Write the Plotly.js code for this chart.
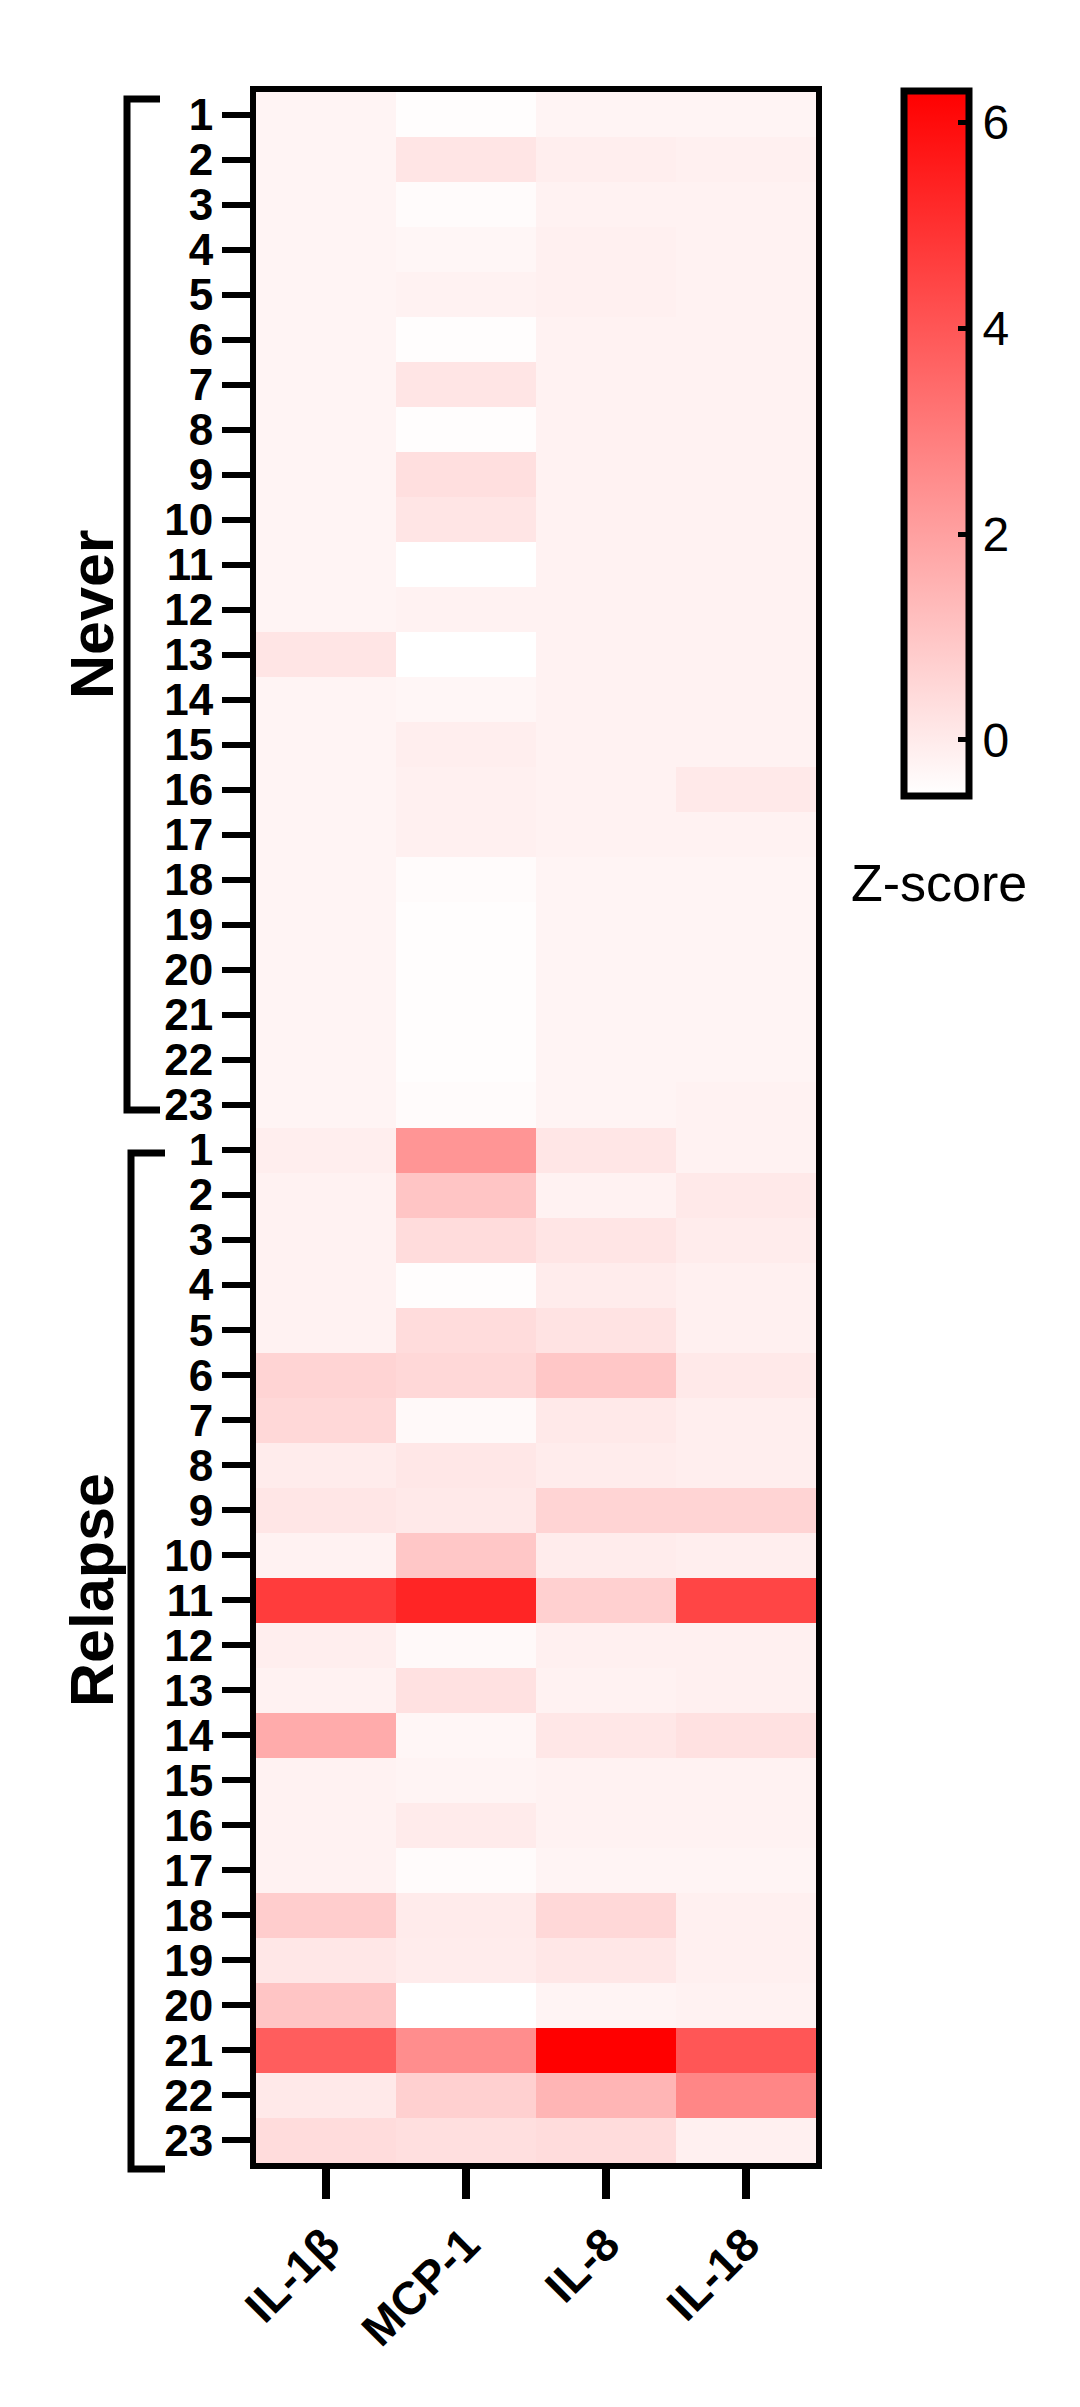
<!DOCTYPE html>
<html>
<head>
<meta charset="utf-8">
<script src="https://cdn.plot.ly/plotly-3.0.1.min.js"></script>
<style>html,body{margin:0;padding:0;background:#fff;}</style>
</head>
<body>
<div id="chart" style="width:1080px;height:2407px;"></div>
<script>
// Cytokines (columns)
const cytokines = ['IL-1β', 'MCP-1', 'IL-8', 'IL-18'];

// Patient labels (rows), top to bottom
const neverIds   = ['1','2','3','4','5','6','7','8','9','10','11','12','13','14','15','16','17','18','19','20','21','22','23'];
const relapseIds = ['1','2','3','4','5','6','7','8','9','10','11','12','13','14','15','16','17','18','19','20','21','22','23'];

// Z-scores, group "Never" (rows 1-23)
const neverIL1b = [-0.25,-0.25,-0.25,-0.25,-0.25,-0.25,-0.25,-0.25,-0.25,-0.25,-0.25,-0.25,0.15,-0.25,-0.25,-0.25,-0.25,-0.25,-0.25,-0.25,-0.25,-0.25,-0.25];
const neverMCP1 = [-0.5,0.15,-0.45,-0.3,-0.2,-0.5,0.15,-0.5,0.3,0.15,-0.55,-0.2,-0.55,-0.3,-0.1,-0.15,-0.15,-0.45,-0.5,-0.5,-0.5,-0.5,-0.45];
const neverIL8  = [-0.25,-0.1,-0.2,-0.15,-0.15,-0.2,-0.2,-0.2,-0.2,-0.2,-0.2,-0.2,-0.2,-0.2,-0.2,-0.2,-0.2,-0.25,-0.25,-0.25,-0.25,-0.25,-0.25];
const neverIL18 = [-0.25,-0.15,-0.2,-0.2,-0.2,-0.2,-0.2,-0.2,-0.2,-0.2,-0.2,-0.2,-0.2,-0.2,-0.2,0.05,-0.2,-0.25,-0.25,-0.25,-0.25,-0.25,-0.2];

// Z-scores, group "Relapse" (rows 1-23)
const relapseIL1b = [-0.1,-0.2,-0.2,-0.2,-0.2,0.6,0.5,-0.05,0.12,-0.2,4.7,-0.1,-0.2,1.7,-0.2,-0.2,-0.2,0.8,0.1,1.0,3.8,0.05,0.4];
const relapseMCP1 = [2.3,1.0,0.4,-0.5,0.4,0.5,-0.4,0.1,0.05,0.95,5.3,-0.4,0.25,-0.3,-0.25,0.0,-0.45,0.0,-0.05,-0.55,2.5,0.7,0.3];
const relapseIL8  = [0.12,-0.2,0.15,-0.05,0.2,0.95,0.05,-0.05,0.6,-0.05,0.7,-0.15,-0.2,0.1,-0.2,-0.2,-0.25,0.5,0.1,-0.25,6.3,1.45,0.4];
const relapseIL18 = [-0.2,0.05,-0.05,-0.15,-0.15,0.05,-0.1,-0.1,0.6,-0.1,4.45,-0.15,-0.15,0.25,-0.2,-0.2,-0.25,-0.15,-0.15,-0.2,4.0,2.7,-0.15];

// Colour bar ticks
const cbTicks = [0, 2, 4, 6];

const groups = [
  {name: 'Never',   ids: neverIds,   cols: [neverIL1b, neverMCP1, neverIL8, neverIL18]},
  {name: 'Relapse', ids: relapseIds, cols: [relapseIL1b, relapseMCP1, relapseIL8, relapseIL18]}
];

// Build z matrix (rows x columns)
const z = [], yLabels = [], yVals = [];
let r = 0;
groups.forEach(g => {
  g.ids.forEach((id, i) => {
    z.push(g.cols.map(c => c[i]));
    yLabels.push(id);
    yVals.push(r);
    r++;
  });
});
const nRows = r;

const FONT = 'Liberation Sans, Arial, sans-serif';

// plot box in pixels
const L = 256, T = 92, W = 560, H = 2071;
const px2x = p => (p - L) / W;
const px2y = p => 1 - (p - T) / H;

const trace = {
  type: 'heatmap',
  z: z,
  x: cytokines.map((c, i) => i),
  y: yVals,
  zmin: -0.55, zmax: 6.3,
  colorscale: [[0, '#ffffff'], [1, '#ff0000']],
  xgap: 0, ygap: 0,
  hoverinfo: 'z',
  colorbar: {
    x: px2x(903.5), xanchor: 'left', xref: 'paper',
    y: px2y(91.5), yanchor: 'top',
    len: 705, lenmode: 'pixels',
    thickness: 65, thicknessmode: 'pixels',
    outlinewidth: 7, outlinecolor: '#000',
    xpad: 0, ypad: 0,
    ticks: 'inside', ticklen: 14, tickwidth: 5, tickcolor: '#000',
    tickvals: cbTicks,
    tickprefix: '\u2002',
    tickfont: {family: FONT, size: 48, color: '#000'}
  }
};

const shapes = [];
const annotations = [];
const bx = [[127, 160], [131, 165]];
const by = [[99, 1110], [1153, 2169]];
const labelY = [614, 1590];
groups.forEach((g, k) => {
  const x0 = px2x(bx[k][0]), x1 = px2x(bx[k][1]);
  const y0 = px2y(by[k][0]), y1 = px2y(by[k][1]);
  shapes.push({
    type: 'path', xref: 'paper', yref: 'paper',
    path: `M ${x1},${y0} L ${x0},${y0} L ${x0},${y1} L ${x1},${y1}`,
    line: {color: '#000', width: 7}
  });
  annotations.push({
    text: g.name, xref: 'paper', yref: 'paper',
    x: px2x(92), y: px2y(labelY[k]), textangle: -90,
    showarrow: false, xanchor: 'center', yanchor: 'middle',
    font: {family: FONT, size: 61, color: '#000', weight: 'bold'}
  });
});
annotations.push({
  text: 'Z-score', xref: 'paper', yref: 'paper',
  x: px2x(939), y: px2y(883), showarrow: false,
  xanchor: 'center', yanchor: 'middle',
  font: {family: FONT, size: 52, color: '#000'}
});

const layout = {
  width: 1080, height: 2407,
  margin: {l: L, r: 1080 - L - W, t: T, b: 2407 - T - H, pad: 0},
  paper_bgcolor: '#fff', plot_bgcolor: '#fff',
  showlegend: false,
  xaxis: {
    tickvals: cytokines.map((c, i) => i), ticktext: cytokines,
    range: [-0.5, cytokines.length - 0.5],
    tickangle: -45, ticks: 'outside', ticklen: 30, tickwidth: 8, tickcolor: '#000',
    showline: true, linewidth: 6, linecolor: '#000', mirror: true,
    showgrid: false, zeroline: false,
    tickfont: {family: FONT, size: 46, color: '#000', weight: 'bold'}
  },
  yaxis: {
    tickvals: yVals, ticktext: yLabels,
    range: [nRows - 0.5, -0.5],
    ticks: 'outside', ticklen: 28, tickwidth: 6, tickcolor: '#000',
    showline: true, linewidth: 6, linecolor: '#000', mirror: true,
    showgrid: false, zeroline: false,
    tickfont: {family: FONT, size: 44, color: '#000', weight: 'bold'}
  },
  shapes: shapes,
  annotations: annotations
};

Plotly.newPlot('chart', [trace], layout, {displayModeBar: false, staticPlot: true});
</script>
</body>
</html>
